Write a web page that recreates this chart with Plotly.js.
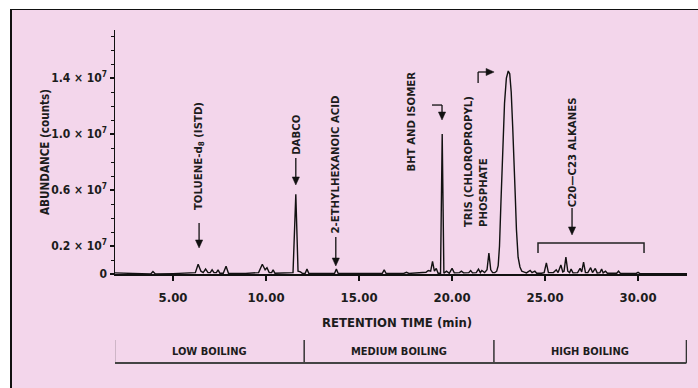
<!DOCTYPE html>
<html>
<head>
<meta charset="utf-8">
<script src="https://cdn.plot.ly/plotly-3.0.1.min.js"></script>
<style>
  html, body { margin:0; padding:0; background:#ffffff; width:698px; height:388px; overflow:hidden; }
  #bg { position:absolute; left:10px; top:9px; width:700px; height:400px; background:#f3d6eb;
        border-left:2px solid #111; border-top:1.5px solid #111; }
  #chart { position:absolute; left:0; top:0; width:698px; height:388px; }
</style>
</head>
<body>
<div id="bg"></div>
<div id="chart"></div>
<script>
// Retention time (min)
const retentionTime = [
  1.88, 2.3, 2.9, 3.6, 3.8, 3.92, 4.05, 5.0, 6.0, 6.2, 6.35, 6.5, 6.62, 6.75, 6.88, 7.0, 7.1, 7.2, 7.33, 7.42, 7.52,
  7.7, 7.85, 7.98, 8.9, 9.6, 9.8, 9.95, 10.05, 10.17, 10.3, 10.38, 10.48, 11.3, 11.45, 11.6, 11.72, 11.85, 11.95,
  12.1, 12.2, 12.3, 13.0, 13.68, 13.78, 13.88, 15.5, 16.25, 16.35, 16.45, 17.4, 17.55, 17.68, 18.3, 18.6, 18.72,
  18.85, 18.95, 19.05, 19.15, 19.25, 19.38, 19.47, 19.56, 19.7, 19.85, 20.0, 20.12, 20.4, 20.5, 20.62, 20.9, 21.0,
  21.1, 21.3, 21.42, 21.52, 21.6, 21.75, 21.88, 21.98, 22.08, 22.18, 22.3, 22.4, 22.48, 22.55, 22.63, 22.72, 22.82,
  22.92, 23.02, 23.1, 23.18, 23.26, 23.33, 23.4, 23.46, 23.55, 23.65, 23.75, 23.85, 24.0, 24.2, 24.3, 24.45, 24.55,
  24.8, 24.95, 25.07, 25.18, 25.45, 25.6, 25.7, 25.85, 25.95, 26.02, 26.12, 26.22, 26.32, 26.4, 26.5, 26.75, 26.88,
  26.97, 27.07, 27.17, 27.3, 27.45, 27.55, 27.7, 27.8, 27.95, 28.04, 28.12, 28.25, 28.35, 28.85, 28.95, 29.05, 29.9,
  30.0, 30.1, 31.5, 32.63
];
// Abundance (x 10^7 counts)
const abundance = [
  0.008, 0.006, 0.004, 0.002, 0.0, 0.018, 0.0, 0.003, 0.005, 0.01, 0.07, 0.02, 0.01, 0.035, 0.01, 0.01, 0.03, 0.01, 0.01, 0.03, 0.005,
  0.005, 0.055, 0.005, 0.004, 0.01, 0.07, 0.03, 0.045, 0.01, 0.01, 0.03, 0.005, 0.005, 0.01, 0.57, 0.02, 0.015, 0.005,
  0.004, 0.035, 0.004, 0.004, 0.004, 0.035, 0.004, 0.004, 0.005, 0.03, 0.005, 0.004, 0.012, 0.004, 0.006, 0.012, 0.025,
  0.02, 0.09, 0.02, 0.04, 0.005, 0.005, 1.0, 0.005, 0.02, 0.005, 0.04, 0.008, 0.01, 0.02, 0.008, 0.01, 0.025,
  0.008, 0.01, 0.035, 0.01, 0.025, 0.01, 0.03, 0.15, 0.03, 0.01, 0.01, 0.02, 0.06, 0.2, 0.52, 0.9, 1.22,
  1.40, 1.45, 1.43, 1.30, 1.05, 0.85, 0.55, 0.32, 0.12, 0.05, 0.02, 0.015, 0.008, 0.025, 0.01, 0.02, 0.005,
  0.005, 0.01, 0.08, 0.01, 0.01, 0.03, 0.01, 0.065, 0.015, 0.02, 0.12, 0.02, 0.01, 0.035, 0.008, 0.01, 0.04,
  0.015, 0.085, 0.01, 0.01, 0.045, 0.01, 0.04, 0.008, 0.01, 0.035, 0.008, 0.02, 0.005, 0.005, 0.02, 0.004, 0.004,
  0.012, 0.003, 0.003, 0.003
];

const xTickVals = [5, 10, 15, 20, 25, 30];
const xTickText = ['5.00', '10.00', '15.00', '20.00', '25.00', '30.00'];
const yTickVals = [0, 0.2, 0.6, 1.0, 1.4];
const yTickText = ['0', '0.2 × 10<sup>7</sup>', '0.6 × 10<sup>7</sup>', '1.0 × 10<sup>7</sup>', '1.4 × 10<sup>7</sup>'];

// Compound labels (retention time where they are placed)
const compoundLabels = ['TOLUENE-d<sub>8</sub> (ISTD)', 'DABCO', '2-ETHYLHEXANOIC ACID', 'BHT AND ISOMER',
                        'TRIS (CHLOROPROPYL)<br>PHOSPHATE', 'C20—C23 ALKANES'];
const compoundLabelTime = [6.4, 11.6, 13.75, 17.8, 21.29, 26.45];
const compoundLabelLevel = [0.843, 1.0, 0.78, 1.09, 0.80, 0.87];
// Straight arrows: time, tail level, tip level
const arrowTime = [6.4, 11.6, 13.75, 26.45];
const arrowTail = [0.364, 0.829, 0.264, 0.471];
const arrowTip  = [0.186, 0.636, 0.057, 0.279];

// Alkane range bracket
const alkaneRange = [24.62, 30.32];

// Boiling ranges
const boilingLabels = ['LOW BOILING', 'MEDIUM BOILING', 'HIGH BOILING'];
const boilingBounds = [1.85, 12.05, 22.25, 32.6];

const FONT = 'Liberation Sans Narrow, Arial Narrow, DejaVu Sans Condensed, sans-serif';
const TXT = '#1c1c1c';
const INK = '#111';

const annotations = [];
const shapes = [];

compoundLabels.forEach((t, i) => {
  annotations.push({
    x: compoundLabelTime[i], y: compoundLabelLevel[i], xref: 'x', yref: 'y',
    text: t, showarrow: false, textangle: -90, align: 'left',
    xanchor: 'center', yanchor: 'middle',
    font: { family: FONT, size: 11.3, color: TXT, weight: 'bold' }
  });
});

function shaft(x0, y0, x1, y1) {
  shapes.push({ type: 'line', xref: 'x', yref: 'y', x0: x0, x1: x1, y0: y0, y1: y1,
    line: { color: INK, width: 1.3 } });
}
function headDown(x, y) {
  shapes.push({ type: 'path', xref: 'x', yref: 'y', xsizemode: 'pixel', ysizemode: 'pixel',
    xanchor: x, yanchor: y, path: 'M -3.6,8 L 3.6,8 L 0,0 Z',
    fillcolor: INK, line: { color: INK, width: 0.5 } });
}
function headRight(x, y) {
  shapes.push({ type: 'path', xref: 'x', yref: 'y', xsizemode: 'pixel', ysizemode: 'pixel',
    xanchor: x, yanchor: y, path: 'M -8,3.6 L -8,-3.6 L 0,0 Z',
    fillcolor: INK, line: { color: INK, width: 0.5 } });
}

arrowTime.forEach((t, i) => {
  shaft(t, arrowTail[i], t, arrowTip[i] + 0.04);
  headDown(t, arrowTip[i]);
});
// BHT bent arrow
shaft(18.92, 1.207, 19.46, 1.207);
shaft(19.46, 1.207, 19.46, 1.13);
headDown(19.46, 1.10);
// TRIS bent arrow
shaft(21.4, 1.364, 21.4, 1.443);
shaft(21.4, 1.443, 22.1, 1.443);
headRight(22.26, 1.443);

// Alkane bracket
shapes.push({ type: 'path', xref: 'x', yref: 'y',
  path: `M ${alkaneRange[0]},0.15 L ${alkaneRange[0]},0.221 L ${alkaneRange[1]},0.221 L ${alkaneRange[1]},0.15`,
  line: { color: '#222', width: 1.5 } });

// Boiling bracket below axis
const bTop = -0.2705, bBot = -0.365;
boilingBounds.forEach(b => {
  shapes.push({ type: 'line', xref: 'x', yref: 'paper', x0: b, x1: b, y0: bTop, y1: bBot, line: { color: '#333', width: 1.5 } });
});
shapes.push({ type: 'line', xref: 'x', yref: 'paper', x0: boilingBounds[0], x1: boilingBounds[3], y0: bBot, y1: bBot, line: { color: '#444', width: 2 } });
boilingLabels.forEach((t, i) => {
  annotations.push({
    x: (boilingBounds[i] + boilingBounds[i + 1]) / 2, y: -0.318, xref: 'x', yref: 'paper',
    text: t, showarrow: false, xanchor: 'center', yanchor: 'middle',
    font: { family: FONT, size: 11, color: TXT, weight: 'bold' }
  });
});

// Axis titles
annotations.push({ x: 0.493, y: -0.2, xref: 'paper', yref: 'paper', text: 'RETENTION TIME (min)', showarrow: false,
  xanchor: 'center', yanchor: 'middle', font: { family: FONT, size: 13, color: TXT, weight: 'bold' } });
annotations.push({ x: -0.1224, y: 0.5, xref: 'paper', yref: 'paper', text: 'ABUNDANCE (counts)', showarrow: false,
  textangle: -90, xanchor: 'center', yanchor: 'middle', font: { family: FONT, size: 11.6, color: TXT, weight: 'bold' } });

const trace = {
  x: retentionTime, y: abundance, type: 'scatter', mode: 'lines',
  line: { color: INK, width: 1.4 }, hoverinfo: 'skip', cliponaxis: false
};

const layout = {
  width: 698, height: 388,
  margin: { l: 115, r: 11, t: 30, b: 114 },
  paper_bgcolor: 'rgba(0,0,0,0)', plot_bgcolor: 'rgba(0,0,0,0)',
  showlegend: false,
  font: { family: FONT, color: TXT },
  xaxis: {
    range: [1.88, 32.63], showgrid: false, zeroline: false,
    showline: true, linecolor: INK, linewidth: 2,
    ticks: 'outside', ticklen: 5, tickwidth: 1.5, tickcolor: INK,
    tickvals: xTickVals, ticktext: xTickText, ticklabelstandoff: 5,
    tickfont: { family: FONT, size: 13, color: TXT, weight: 'bold' }
  },
  yaxis: {
    range: [0, 1.743], showgrid: false, zeroline: false,
    showline: true, linecolor: INK, linewidth: 1.5,
    ticks: 'outside', ticklen: 4, tickwidth: 1.3, tickcolor: INK,
    tickvals: yTickVals, ticktext: yTickText,
    minor: { dtick: 0.1, tick0: 0, ticks: 'outside', ticklen: 3, tickwidth: 1, tickcolor: INK },
    tickfont: { family: FONT, size: 12, color: TXT, weight: 'bold' }
  },
  annotations: annotations,
  shapes: shapes
};

Plotly.newPlot('chart', [trace], layout, { displayModeBar: false, staticPlot: true });
</script>
</body>
</html>
